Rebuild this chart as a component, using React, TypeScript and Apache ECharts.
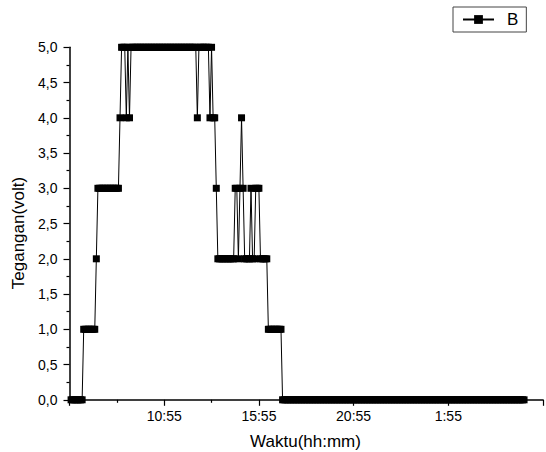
import React, { useEffect, useRef } from "react";
import * as echarts from "echarts";

// Readings every 5 minutes, first reading at 6:00 (axis starts at 5:55)
const axisStartMinutes = 355; // 5:55
const firstReadingOffset = 5; // minutes after axis start
const stepMinutes = 5;

// one row per hour: 6:00 … 5:55 next day (12 readings per row)
const readings: number[][] = [
  [0, 0, 0, 0, 0, 0, 0, 0, 1, 1, 1, 1], // 6:00
  [1, 1, 1, 1, 2, 3, 3, 3, 3, 3, 3, 3], // 7:00
  [3, 3, 3, 3, 3, 3, 3, 4, 5, 5, 5, 4], // 8:00
  [5, 4, 5, 5, 5, 5, 5, 5, 5, 5, 5, 5], // 9:00
  [5, 5, 5, 5, 5, 5, 5, 5, 5, 5, 5, 5], // 10:00
  [5, 5, 5, 5, 5, 5, 5, 5, 5, 5, 5, 5], // 11:00
  [5, 5, 5, 5, 5, 5, 5, 5, 4, 5, 5, 5], // 12:00
  [5, 5, 5, 5, 4, 5, 4, 4, 3, 2, 2, 2], // 13:00
  [2, 2, 2, 2, 2, 2, 2, 2, 3, 3, 2, 3], // 14:00
  [4, 3, 2, 2, 2, 2, 3, 2, 2, 3, 3, 3], // 15:00
  [2, 2, 2, 2, 2, 1, 1, 1, 1, 1, 1, 1], // 16:00
  [1, 1, 0, 0, 0, 0, 0, 0, 0, 0, 0, 0], // 17:00
  [0, 0, 0, 0, 0, 0, 0, 0, 0, 0, 0, 0], // 18:00
  [0, 0, 0, 0, 0, 0, 0, 0, 0, 0, 0, 0], // 19:00
  [0, 0, 0, 0, 0, 0, 0, 0, 0, 0, 0, 0], // 20:00
  [0, 0, 0, 0, 0, 0, 0, 0, 0, 0, 0, 0], // 21:00
  [0, 0, 0, 0, 0, 0, 0, 0, 0, 0, 0, 0], // 22:00
  [0, 0, 0, 0, 0, 0, 0, 0, 0, 0, 0, 0], // 23:00
  [0, 0, 0, 0, 0, 0, 0, 0, 0, 0, 0, 0], // 0:00
  [0, 0, 0, 0, 0, 0, 0, 0, 0, 0, 0, 0], // 1:00
  [0, 0, 0, 0, 0, 0, 0, 0, 0, 0, 0, 0], // 2:00
  [0, 0, 0, 0, 0, 0, 0, 0, 0, 0, 0, 0], // 3:00
  [0, 0, 0, 0, 0, 0, 0, 0, 0, 0, 0, 0], // 4:00
  [0, 0, 0, 0, 0, 0, 0, 0, 0, 0, 0, 0], // 5:00
];

const xLabelValues = [300, 600, 900, 1200];
const xTickLabels = ["10:55", "15:55", "20:55", "1:55"];
const seriesName = "B";
const xTitle = "Waktu(hh:mm)";
const yTitle = "Tegangan(volt)";

const FONT = "'Liberation Sans', Arial, sans-serif";

export default function App() {
  const ref = useRef<HTMLDivElement>(null);
  useEffect(() => {
    if (!ref.current) return;
    const chart = echarts.init(ref.current, undefined, { renderer: "svg" });
    const flat = readings.flat();
    const data = flat.map((v, i) => [firstReadingOffset + i * stepMinutes, v]);
    void axisStartMinutes;
    chart.setOption({
      animation: false,
      backgroundColor: "#ffffff",
      grid: { left: 69.5, top: 47.3, width: 476.6, height: 352.5 },
      legend: {
        data: [seriesName],
        left: 453,
        top: 7,
        itemWidth: 31,
        itemHeight: 11,
        padding: [4, 8, 4, 9],
        backgroundColor: "#ffffff",
        borderColor: "#444",
        borderWidth: 1,
        borderRadius: 0,
        textStyle: { fontSize: 17, color: "#000", fontFamily: FONT, padding: [0, 0, 0, 8] },
      },
      xAxis: {
        type: "value",
        min: 0,
        max: 1500,
        interval: 300,
        axisLine: { show: true, onZero: false, lineStyle: { color: "#000", width: 1.5 } },
        axisTick: { show: true, inside: false, length: 6, lineStyle: { color: "#000", width: 1.2 } },
        minorTick: { show: true, splitNumber: 2, length: 3, lineStyle: { color: "#000", width: 1.2 } },
        splitLine: { show: false },
        minorSplitLine: { show: false },
        axisLabel: {
          margin: 9,
          fontSize: 14,
          color: "#000",
          fontFamily: FONT,
          showMinLabel: true,
          showMaxLabel: true,
          formatter: (v: number) => {
            const idx = xLabelValues.indexOf(Math.round(v));
            return idx >= 0 ? xTickLabels[idx] : "";
          },
        },
      },
      yAxis: {
        type: "value",
        min: 0,
        max: 5,
        interval: 0.5,
        axisLine: { show: true, lineStyle: { color: "#000", width: 1.5 } },
        axisTick: { show: true, inside: false, length: 6, lineStyle: { color: "#000", width: 1.2 } },
        minorTick: { show: true, splitNumber: 2, length: 3, lineStyle: { color: "#000", width: 1.2 } },
        splitLine: { show: false },
        axisLabel: {
          margin: 12,
          fontSize: 14,
          color: "#000",
          fontFamily: FONT,
          formatter: (v: number) => v.toFixed(1).replace(".", ","),
        },
      },
      graphic: [
        {
          type: "text",
          x: 305.5,
          y: 441,
          style: { text: xTitle, font: `17px ${FONT}`, fill: "#000", align: "center", verticalAlign: "middle" },
        },
        {
          type: "text",
          x: 18,
          y: 233,
          rotation: Math.PI / 2,
          style: { text: yTitle, font: `17px ${FONT}`, fill: "#000", align: "center", verticalAlign: "middle" },
        },
      ],
      series: [
        {
          name: seriesName,
          type: "line",
          data,
          symbol: "rect",
          symbolSize: 7,
          showSymbol: true,
          showAllSymbol: true,
          clip: false,
          lineStyle: { color: "#000", width: 1 },
          itemStyle: { color: "#000", borderWidth: 0 },
          emphasis: { disabled: true },
        },
      ],
    });
    return () => chart.dispose();
  }, []);
  return (
    <div
      ref={ref}
      style={{ position: "absolute", left: 0, top: 0, width: 546, height: 452 }}
    />
  );
}
